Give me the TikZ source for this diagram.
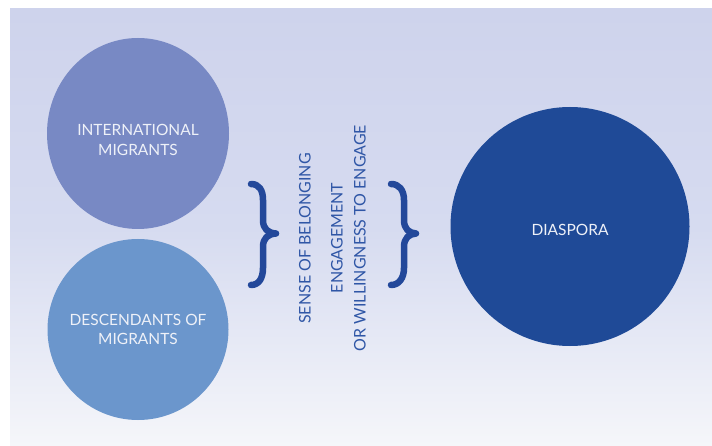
\documentclass[tikz,border=0pt]{standalone}
\usepackage{fontspec}
\setmainfont{Lato}
\usetikzlibrary{shapes.geometric}
\definecolor{bgtop}{HTML}{CED3EC}
\definecolor{bgmid}{HTML}{D6DBF0}
\definecolor{bgbot}{HTML}{F5F6FA}
\definecolor{cone}{HTML}{7889C4}
\definecolor{ctwo}{HTML}{6B96CC}
\definecolor{cdia}{HTML}{1F4A97}
\definecolor{mtext}{HTML}{2F56A6}
\definecolor{bracecol}{HTML}{23489A}
\definecolor{ctext}{HTML}{EEF1F8}
\tikzset{
  blob/.style={draw=none, inner sep=0pt},
  circtext/.style={text=ctext, align=center, font=\fontsize{15.5}{19.5}\selectfont},
  vtext/.style={text=mtext, rotate=90, align=center, font=\fontsize{16}{23}\selectfont},
  bracestyle/.style={draw=bracecol, line width=6.5pt, line cap=round, line join=round},
}
\begin{document}
\begin{tikzpicture}[x=1pt, y=-1pt]
\useasboundingbox (0,0) rectangle (712,446);
\shade[top color=bgtop, bottom color=bgbot, middle color=bgmid] (10,9) rectangle (712,446);
\node[blob, ellipse, fill=cone, minimum width=182pt, minimum height=191pt] (im) at (138,133.5) {};
\node[circtext] (imt) at (138,140) {INTERNATIONAL\\MIGRANTS};
\node[blob, circle, fill=ctwo, minimum size=181pt] (dm) at (138,329.5) {};
\node[circtext] (dmt) at (138,329.5) {DESCENDANTS OF\\MIGRANTS};
\node[blob, circle, fill=cdia, minimum size=239pt] (dia) at (570,226.5) {};
\node[circtext] (diat) at (570,229.5) {DIASPORA};
\node[vtext] (sob) at (305,238.5) {SENSE OF BELONGING};
\node[vtext] (eng) at (348.5,238) {ENGAGEMENT\\OR WILLINGNESS TO ENGAGE};
\draw[bracestyle] (251,184) .. controls (259,184) and (263,190) .. (263,200) -- (263,220)
  .. controls (263,229) and (268,233) .. (276,233.5)
  .. controls (268,234) and (263,238) .. (263,247) -- (263,268)
  .. controls (263,278) and (259,285) .. (251,285);
\draw[bracestyle] (391,184) .. controls (399,184) and (404,190) .. (404,200) -- (404,220)
  .. controls (404,229) and (409,233) .. (416,233.5)
  .. controls (409,234) and (404,238) .. (404,247) -- (404,268)
  .. controls (404,278) and (399,285) .. (391,285);
\end{tikzpicture}
\end{document}
